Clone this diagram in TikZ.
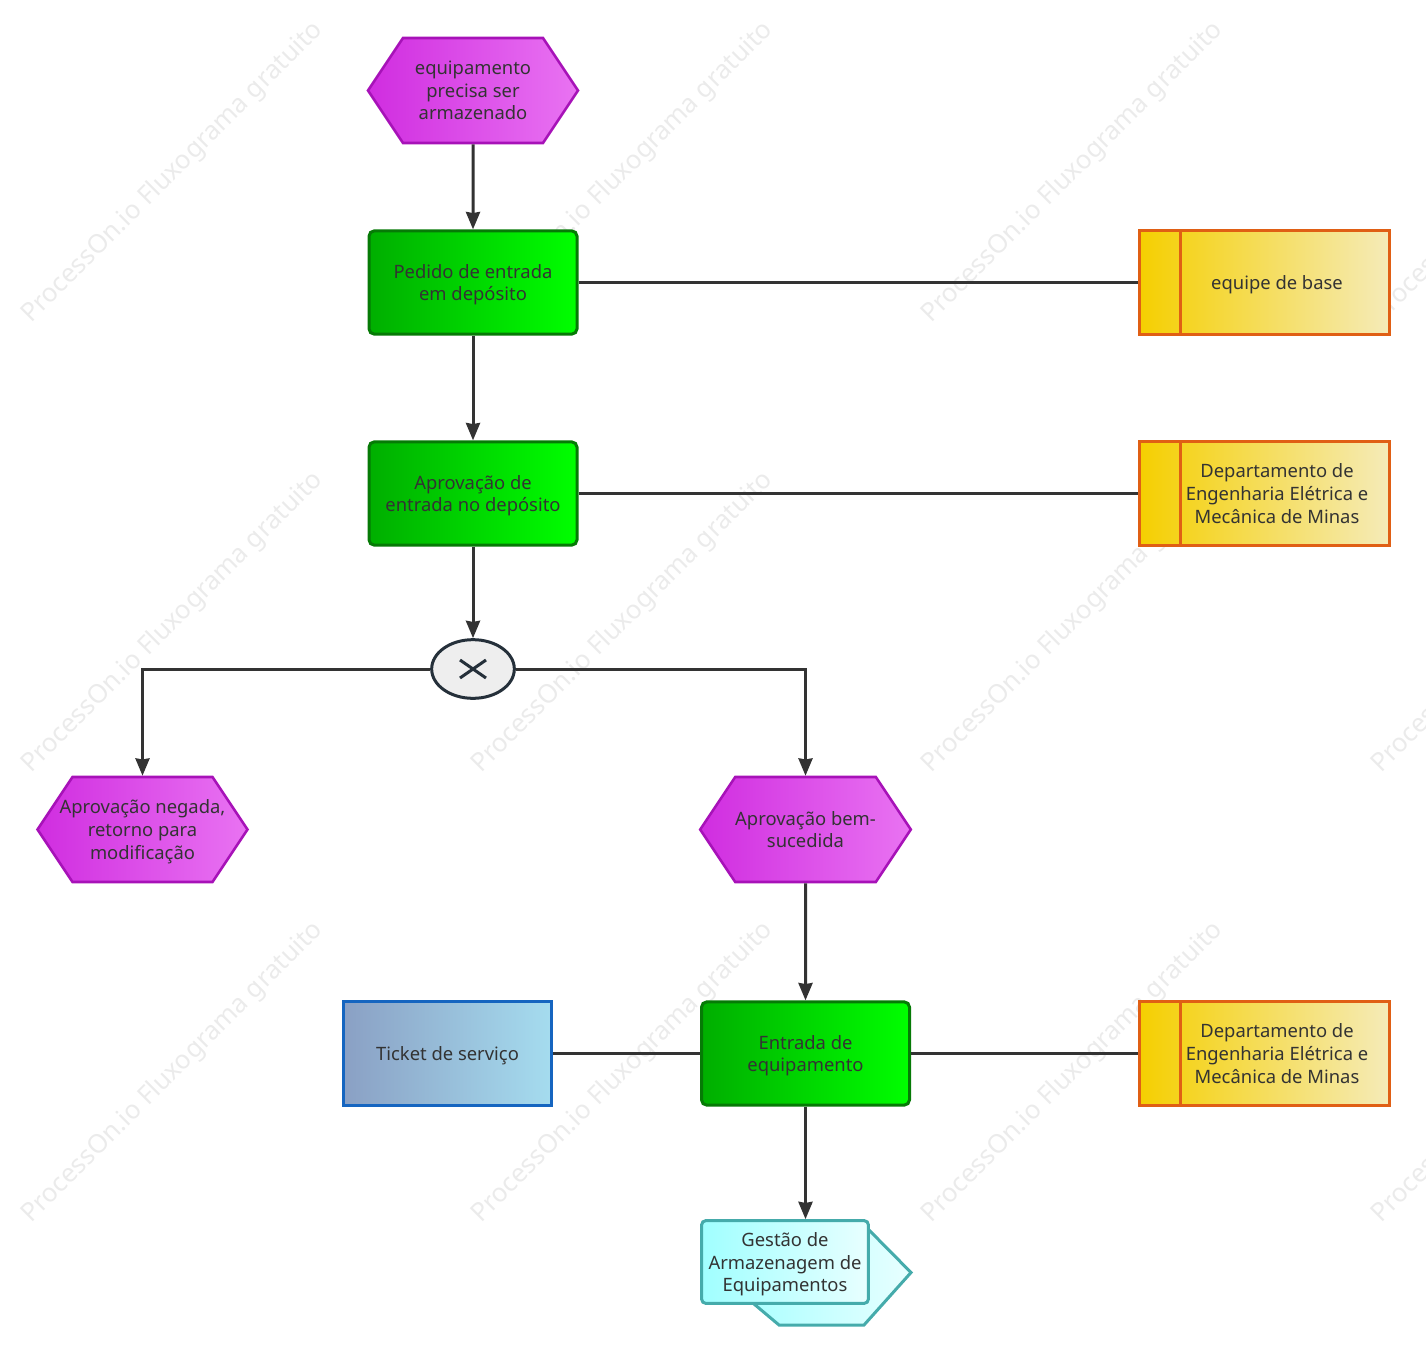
\documentclass[tikz,border=0pt]{standalone}
\usepackage{fontspec}
\setmainfont{Noto Sans}
\usetikzlibrary{arrows.meta,shapes.geometric,shapes.symbols}
\definecolor{txtcol}{HTML}{333333}
\definecolor{wmcol}{HTML}{EBEBEB}
\tikzset{
  boxtext/.style={font=\fontsize{13.8pt}{16.9pt}\selectfont,text=txtcol,align=center,text depth=0pt},
  eventnode/.style={boxtext,shape=signal,signal to=east and west,signal pointer angle=112.6,
    draw=eventline,line width=1.9pt,left color=eventa,right color=eventb,
    minimum width=157.5pt,minimum height=78.75pt,inner sep=0pt},
  tasknode/.style={boxtext,rectangle,rounded corners=4pt,draw=taskline,line width=2.25pt,
    left color=taska,right color=taskb,minimum width=156pt,minimum height=77.5pt,inner sep=0pt},
  staffnode/.style={rectangle,draw=staffline,line width=2.25pt,left color=staffa,right color=staffb,
    minimum width=187.5pt,minimum height=77.5pt,inner sep=0pt},
  docnode/.style={boxtext,rectangle,draw=blueline,line width=2.25pt,left color=bluea,right color=blueb,
    minimum width=156pt,minimum height=77.5pt,inner sep=0pt},
  pathnode/.style={boxtext,rectangle,rounded corners=3pt,draw=pathline,line width=2.25pt,
    left color=patha,right color=pathb,minimum width=125pt,minimum height=62pt,inner sep=0pt},
  gatenode/.style={ellipse,draw=gateline,line width=2.25pt,fill=gatefill,
    minimum width=62pt,minimum height=44pt,inner sep=0pt},
  wmark/.style={font=\fontsize{19.4pt}{19.4pt}\selectfont,text=wmcol,anchor=base west,rotate=45,inner sep=0pt},
  link/.style={draw=txtcol,line width=2.25pt},
  flow/.style={link,-{Stealth[length=13pt,width=10.5pt,inset=0.8pt]}}
}
\definecolor{eventa}{HTML}{D02DE0}
\definecolor{eventb}{HTML}{E973F2}
\definecolor{eventline}{HTML}{A712B8}
\definecolor{taska}{HTML}{00AE00}
\definecolor{taskb}{HTML}{00FF00}
\definecolor{taskline}{HTML}{067A06}
\definecolor{staffa}{HTML}{F5CF00}
\definecolor{staffb}{HTML}{F5EBB8}
\definecolor{staffline}{HTML}{E05F14}
\definecolor{bluea}{HTML}{8AA0C4}
\definecolor{blueb}{HTML}{A5DCEF}
\definecolor{blueline}{HTML}{1565C0}
\definecolor{patha}{HTML}{A0FFFF}
\definecolor{pathb}{HTML}{E8FFFF}
\definecolor{pathline}{HTML}{45ABAB}
\definecolor{gatefill}{HTML}{EEEEEE}
\definecolor{gateline}{HTML}{25303A}
\begin{document}
\begin{tikzpicture}[x=0.75pt, y=-0.75pt]
  \useasboundingbox (0,0) rectangle (1426,1362);

  % watermark
  \begin{scope}
    \clip (0,0) rectangle (1426,1362);
    \foreach \wx in {31,481,931,1381}
      \foreach \wy in {324,774,1224}
        \node [wmark] (wm-\wx-\wy) at (\wx,\wy) {ProcessOn.io Fluxograma gratuito};
  \end{scope}

  % events
  \node [eventnode] (start) at (473,90.5) {equipamento\\precisa ser\\armazenado};
  \node [eventnode] (denied) at (142.5,829.5) {\makebox[0pt]{Aprovação negada,}\\retorno para\\modificação};
  \node [eventnode] (passed) at (805.5,829.5) {Aprovação bem-\\sucedida};

  % tasks
  \node [tasknode] (request) at (473,282.5) {Pedido de entrada\\em depósito};
  \node [tasknode] (approve) at (473,493.5) {Aprovação de\\entrada no depósito};
  \node [tasknode] (entry) at (805.5,1053.5) {Entrada de\\equipamento};

  % gate
  \node [gatenode] (gate) at (473,669) {};
  \draw [gateline, line width=2.25pt] (460,660) -- (486,678) (460,678) -- (486,660);

  % staff
  \foreach \name/\yy/\txt in {staffa/282.5/equipe de base,
      staffb/493.5/Departamento de\\Engenharia Elétrica e\\Mecânica de Minas,
      staffc/1053.5/Departamento de\\Engenharia Elétrica e\\Mecânica de Minas} {
    \node [staffnode] (\name) at (1264,\yy) {};
    \draw [staffline, line width=2.25pt] (1180,\yy-52.5) -- (1180,\yy+52.5);
    \node [boxtext] (\name-txt) at (1277,\yy) {\txt};
  }

  % ticket
  \node [docnode] (ticket) at (447.5,1053.5) {Ticket de serviço};

  % process path
  \shade [left color=patha, right color=pathb, draw=pathline, line width=2.25pt, line join=miter]
    (785,1262) -- (868,1229) -- (911,1272.5) -- (864,1325) -- (779,1325) -- (716,1272) -- cycle;
  \node [pathnode] (store) at (785,1262) {Gestão de\\Armazenagem de\\Equipamentos};

  % connectors
  \draw [flow] (start) -- (request);
  \draw [flow] (request) -- (approve);
  \draw [flow] (approve) -- (gate);
  \draw [flow] (gate.west) -| (denied.north);
  \draw [flow] (gate.east) -| (passed.north);
  \draw [flow] (passed) -- (entry);
  \draw [flow] (entry) -- (entry |- store.north);
  \draw [link] (request) -- (staffa);
  \draw [link] (approve) -- (staffb);
  \draw [link] (entry) -- (staffc);
  \draw [link] (ticket) -- (entry);
\end{tikzpicture}
\end{document}
